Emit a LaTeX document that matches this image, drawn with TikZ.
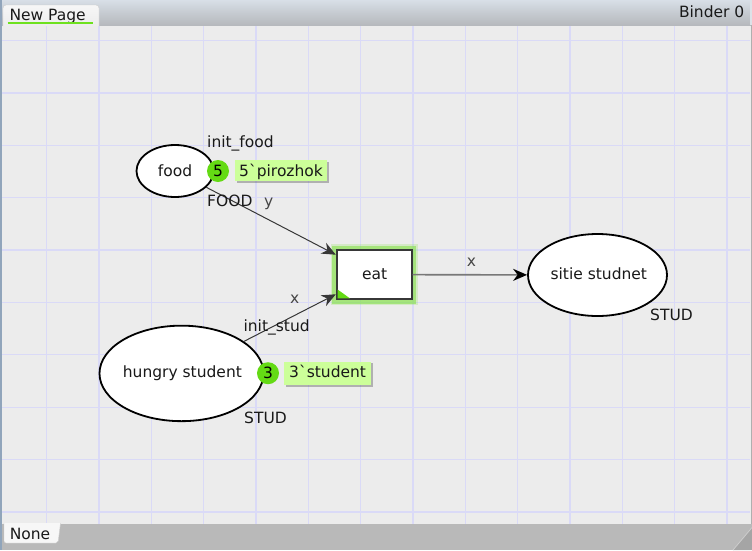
\documentclass[tikz,border=0pt]{standalone}
\usepackage{fontspec}
\setmainfont{DejaVu Sans}
\newfontfamily\plainfont{DejaVu Sans}
\usetikzlibrary{shapes.geometric,arrows.meta,shadows}
\definecolor{canvasbg}{RGB}{236,236,236}
\definecolor{gridc}{RGB}{218,218,247}
\definecolor{tokgreen}{RGB}{100,218,20}
\definecolor{markgreen}{RGB}{204,255,153}
\definecolor{glowgreen}{RGB}{120,225,50}
\definecolor{arcdark}{RGB}{55,55,55}
\definecolor{arclight}{RGB}{120,120,120}
\definecolor{labgray}{RGB}{70,70,70}
\definecolor{txt}{RGB}{25,25,25}
\definecolor{topA}{RGB}{216,223,231}
\definecolor{topM}{RGB}{198,203,209}
\definecolor{topB}{RGB}{182,185,189}
\definecolor{topEdge}{RGB}{220,226,232}
\definecolor{tabA}{RGB}{247,247,247}
\definecolor{tabB}{RGB}{236,236,236}
\definecolor{tabline}{RGB}{205,205,205}
\definecolor{ulgreen}{RGB}{110,225,30}
\definecolor{bottombar}{RGB}{185,185,185}
\definecolor{gripc}{RGB}{165,165,165}
\definecolor{griplight}{RGB}{205,205,205}
\definecolor{leftb}{RGB}{145,165,187}
\definecolor{rightb}{RGB}{175,175,175}
\tikzset{
  lbl/.style={anchor=base west, inner sep=0pt, font=\plainfont\fontsize{15.5}{18}\selectfont, text=txt},
  arclbl/.style={lbl, text=labgray},
  place/.style={draw=black, line width=1.8pt, fill=white, ellipse, inner sep=0pt},
  tok/.style={circle, fill=tokgreen, inner sep=0pt, minimum size=22pt, font=\plainfont\fontsize{15.5}{18}\selectfont, text=black},
  markbox/.style={fill=markgreen, anchor=west, inner ysep=0pt, font=\plainfont\fontsize{15.5}{18}\selectfont, text=txt,
     drop shadow={shadow xshift=1.8pt, shadow yshift=-1.8pt, fill=black, opacity=0.25}},
  trans/.style={draw=arcdark, line width=1.8pt, fill=white, rectangle, inner sep=0pt},
  arcA/.style={draw=arcdark, line width=1pt, -{Stealth[length=14pt,width=12pt,inset=4.5pt]}},
  arcB/.style={draw=arclight, line width=1.6pt, -{Stealth[length=14pt,width=12pt,inset=4.5pt,color=black]}},
  gridline/.style={draw=gridc, line width=1.3pt},
}
\begin{document}
\begin{tikzpicture}[x=1pt,y=-1pt]
\useasboundingbox (0,0) rectangle (752,550);
% canvas
\fill[canvasbg] (0,0) rectangle (752,550);
\foreach \k in {0,...,13} \draw[gridline] ({46.5+52.35*\k},25) -- ({46.5+52.35*\k},524);
\foreach \k in {0,...,9} \draw[gridline] (2,{40.7+52.35*\k}) -- (750,{40.7+52.35*\k});
% top bar
\shade[top color=topA, bottom color=topB, middle color=topM] (0,0) rectangle (752,25);
\fill[topEdge] (749.5,0) rectangle (752,25);
\path[draw=tabline, top color=tabA, bottom color=tabB, rounded corners=3pt] (3,26) -- (3,5) -- (99,5) -- (99,26);
\node[lbl] (tabname) at (9.3,20.3) {New Page};
\node[lbl, anchor=base east] (binder) at (744.5,17) {Binder 0};
% bottom bar
\fill[bottombar] (0,524) rectangle (752,550);
\path[draw=tabline, fill=tabA, rounded corners=2pt] (4,523) -- (4,543) -- (58,543) -- (60.5,523);
\node[lbl] (none) at (9.6,539.3) {None};
\fill[gripc] (752,527.5) -- (752,550) -- (733,550) -- cycle;
\draw[griplight, line width=0.8pt] (752,527.5) -- (733,550);
% borders
\fill[leftb] (0,0) rectangle (1.6,550);
\fill[rightb] (750.8,25) rectangle (752,524);
% places
\node[place, minimum width=77pt, minimum height=52pt] (food) at (175,171) {};
\node[place, minimum width=164pt, minimum height=95.5pt] (hungry) at (181.5,373.4) {};
\node[place, minimum width=139pt, minimum height=82pt] (sitie) at (597.5,275) {};
\node[lbl, anchor=base] (foodname) at (175,176.2) {food};
\node[lbl, anchor=base] (hungryname) at (182.4,377.7) {hungry student};
\node[lbl, anchor=base] (sitiename) at (598.8,279.3) {sitie studnet};
% transition
\draw[glowgreen, line width=7pt, opacity=0.2] (334.2,247.5) rectangle (414.2,301.8);
\draw[glowgreen, line width=4pt, opacity=0.5] (334.2,247.5) rectangle (414.2,301.8);
\node[trans, minimum width=75pt, minimum height=49.3pt] (eat) at (374.2,274.6) {};
\fill[tokgreen] (337.6,289.5) -- (337.6,298.4) -- (350,298.4) -- cycle;
\node[lbl, anchor=base] (eatname) at (374.6,279.3) {eat};
% arcs
\draw[arcA] (food) -- (eat);
\draw[arcA] (hungry) -- (eat);
\draw[arcB] (eat) -- (sitie);
% inscriptions
\node[lbl] (initfood) at (207,147) {init\_food};
\node[lbl] (foodtype) at (207,206) {FOOD};
\node[arclbl] (arcy) at (264,206) {y};
\node[arclbl] (arcx1) at (290,303.8) {x};
\node[lbl] (initstud) at (243.4,331.5) {init\_stud};
\node[lbl] (studtype) at (244,423.3) {STUD};
\node[arclbl] (arcx2) at (466.6,266) {x};
\node[lbl] (studtype2) at (650,320.7) {STUD};
% markings
\node[tok] (tok5) at (218,171) {5};
\node[markbox, inner xsep=4pt, text height=16pt, text depth=5pt] (mark5) at (235,170.5) {5\symbol{96}pirozhok};
\node[tok] (tok3) at (268,373.2) {3};
\node[markbox, inner xsep=5pt, text height=16pt, text depth=7.3pt] (mark3) at (284,373.3) {3\symbol{96}student};
% tab underline
\draw[draw=ulgreen, line width=2pt] (7.5,23.4) -- (92.5,23.4);
\end{tikzpicture}
\end{document}
